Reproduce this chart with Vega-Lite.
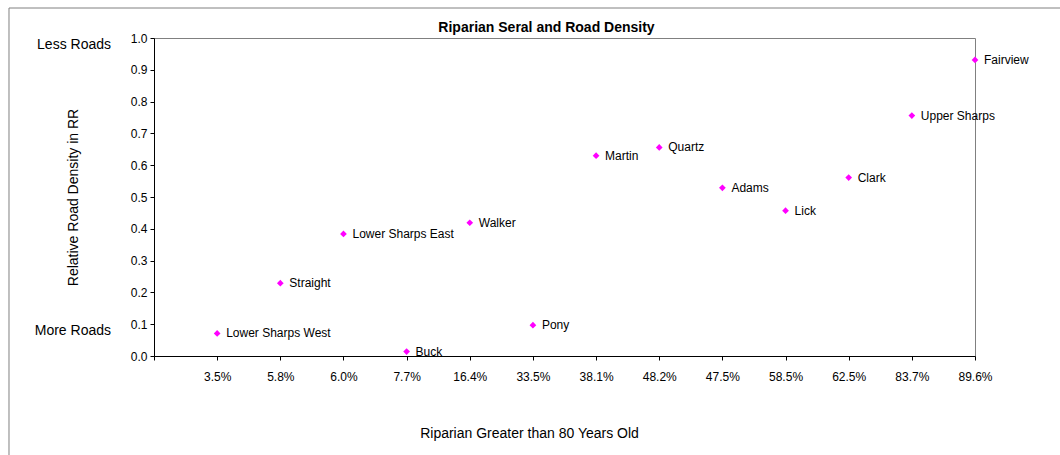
{
  "$schema": "https://vega.github.io/schema/vega-lite/v6.json",
  "width": 821,
  "height": 318,
  "autosize": {"type": "none"},
  "padding": {"left": 154, "top": 38, "right": 85, "bottom": 99},
  "background": "white",
  "config": {
    "font": "Liberation Sans",
    "view": {"stroke": "#808080", "strokeWidth": 1}
  },
  "title": {
    "text": "Riparian Seral and Road Density",
    "font": "Liberation Sans",
    "fontSize": 14,
    "fontWeight": "bold",
    "color": "black",
    "anchor": "middle",
    "frame": "group",
    "offset": 0,
    "baseline": "alphabetic",
    "dx": -18,
    "dy": 38.5
  },
  "datasets": {
    "sites": [
      {"site": "Lower Sharps West", "pct": "3.5%", "density": 0.071},
      {"site": "Straight", "pct": "5.8%", "density": 0.229},
      {"site": "Lower Sharps East", "pct": "6.0%", "density": 0.384},
      {"site": "Buck", "pct": "7.7%", "density": 0.014},
      {"site": "Walker", "pct": "16.4%", "density": 0.419},
      {"site": "Pony", "pct": "33.5%", "density": 0.097},
      {"site": "Martin", "pct": "38.1%", "density": 0.630},
      {"site": "Quartz", "pct": "48.2%", "density": 0.656},
      {"site": "Adams", "pct": "47.5%", "density": 0.529},
      {"site": "Lick", "pct": "58.5%", "density": 0.457},
      {"site": "Clark", "pct": "62.5%", "density": 0.561},
      {"site": "Upper Sharps", "pct": "83.7%", "density": 0.756},
      {"site": "Fairview", "pct": "89.6%", "density": 0.931}
    ],
    "notes": [
      {"note": "Less Roads", "level": 1.0},
      {"note": "More Roads", "level": 0.1}
    ]
  },
  "layer": [
    {
      "data": {"values": [{}]},
      "layer": [
        {
          "mark": {"type": "rule", "color": "#808080", "strokeWidth": 1, "clip": false},
          "encoding": {
            "x": {"datum": -2.296, "type": "quantitative", "scale": {"domain": [0, 13], "nice": false, "zero": false}, "axis": null},
            "x2": {"datum": 15},
            "y": {"datum": 1.0943, "type": "quantitative", "scale": {"domain": [0, 1], "nice": false}, "axis": null}
          }
        },
        {
          "mark": {"type": "rule", "color": "#808080", "strokeWidth": 1, "clip": false},
          "encoding": {
            "x": {"datum": -2.296, "type": "quantitative", "scale": {"domain": [0, 13], "nice": false, "zero": false}, "axis": null},
            "y": {"datum": 1.0943, "type": "quantitative", "scale": {"domain": [0, 1], "nice": false}, "axis": null},
            "y2": {"datum": -0.4}
          }
        }
      ]
    },
    {
      "encoding": {
        "x": {
          "field": "pct",
          "type": "ordinal",
          "scale": {"type": "point", "padding": 0, "domain": ["", "3.5%", "5.8%", "6.0%", "7.7%", "16.4%", "33.5%", "38.1%", "48.2%", "47.5%", "58.5%", "62.5%", "83.7%", "89.6%"]},
          "axis": {
            "title": "Riparian Greater than 80 Years Old",
            "titleFontSize": 14,
            "titleFontWeight": "normal",
            "titleColor": "black",
            "titleX": 375,
            "titleY": 81,
            "titleBaseline": "alphabetic",
            "labelAngle": 0,
            "labelFontSize": 12,
            "labelColor": "black",
            "labelPadding": 11,
            "tickSize": 4,
            "tickColor": "black",
            "domainColor": "black",
            "grid": false
          }
        },
        "y": {
          "field": "density",
          "type": "quantitative",
          "scale": {"domain": [0, 1], "nice": false},
          "axis": {
            "title": "Relative Road Density in RR",
            "titleFontSize": 14,
            "titleFontWeight": "normal",
            "titleColor": "black",
            "titleX": -80.5,
            "titleY": 159,
            "titleAngle": -90,
            "titleBaseline": "middle",
            "values": [0, 0.1, 0.2, 0.3, 0.4, 0.5, 0.6, 0.7, 0.8, 0.9, 1.0],
            "format": ".1f",
            "labelOverlap": false,
            "labelFontSize": 12,
            "labelColor": "black",
            "labelPadding": 3,
            "tickSize": 4,
            "tickColor": "black",
            "domainColor": "black",
            "grid": false
          }
        }
      },
      "layer": [
        {
          "data": {"name": "sites"},
          "mark": {"type": "point", "shape": "diamond", "filled": true, "color": "#FF00FF", "size": 45, "opacity": 1, "clip": false}
        },
        {
          "data": {"name": "sites"},
          "mark": {"type": "text", "align": "left", "baseline": "middle", "dx": 9, "fontSize": 12, "color": "black", "clip": false},
          "encoding": {
            "text": {"field": "site"}
          }
        },
        {
          "data": {"name": "notes"},
          "mark": {"type": "text", "align": "right", "baseline": "middle", "dx": -43, "dy": 7, "fontSize": 14, "color": "black", "clip": false},
          "encoding": {
            "x": {"datum": "", "type": "ordinal"},
            "y": {"field": "level", "type": "quantitative"},
            "text": {"field": "note"}
          }
        }
      ]
    }
  ],
  "resolve": {"scale": {"x": "independent", "y": "independent"}}
}
